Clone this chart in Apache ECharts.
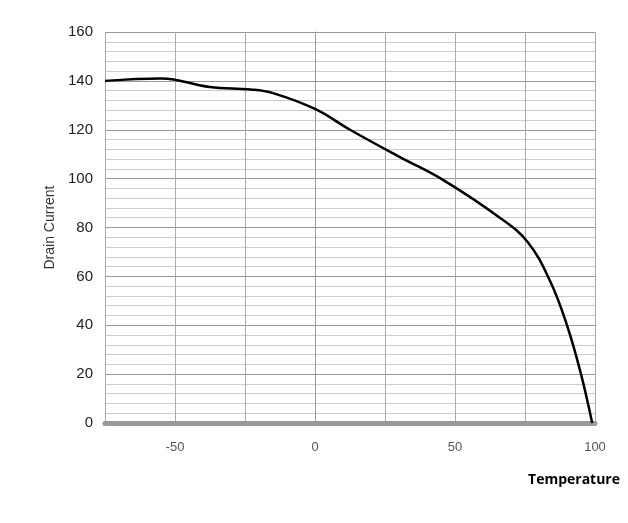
<!DOCTYPE html>
<html><head><meta charset="utf-8">
<script src="https://cdn.jsdelivr.net/npm/echarts@6/dist/echarts.min.js"></script>
<style>html,body{margin:0;padding:0;background:#fff}#c{width:628px;height:523px}</style>
</head><body><div id="c"></div>
<script>
// Temperature (x) vs Drain Current (y)
const temperature = [-75, -55, -37.5, -23, -15, 0, 12.5, 30, 45.7, 66, 76, 84, 90, 95, 99];
const drainCurrent = [140, 141, 137.5, 136.5, 135, 128.5, 120, 109, 99.5, 84, 74, 58, 40, 20, 0];
const xTicks = [-50, 0, 50, 100];
const yTicks = [0, 20, 40, 60, 80, 100, 120, 140, 160];

const chart = echarts.init(document.getElementById('c'));
chart.setOption({
  animation: false,
  backgroundColor: '#fff',
  title: {
    text: 'Temperature', right: 3, top: 468,
    textStyle: {fontFamily: 'Open Sans', fontSize: 14, fontWeight: 'bold', color: '#000'}
  },
  grid: {left: 105, right: 33, top: 32, bottom: 100},
  xAxis: {
    type: 'value', min: -75, max: 100, interval: 25,
    axisLine: {show: true, onZero: false, lineStyle: {color: '#999', width: 5}},
    axisTick: {show: false},
    splitLine: {show: true, lineStyle: {color: '#aaa', width: 1}},
    axisLabel: {
      margin: 18, fontFamily: 'Liberation Sans', fontSize: 13, color: '#555',
      formatter: v => xTicks.includes(v) ? String(v) : ''
    }
  },
  yAxis: {
    type: 'value', min: 0, max: 160, interval: 20,
    name: 'Drain Current', nameLocation: 'middle', nameGap: 40,
    nameTextStyle: {fontFamily: 'Liberation Sans', fontSize: 14, color: '#333'},
    axisLine: {show: true, lineStyle: {color: '#999'}},
    axisTick: {show: false},
    minorTick: {show: false, splitNumber: 5},
    splitLine: {show: true, lineStyle: {color: '#999', width: 1}},
    minorSplitLine: {show: true, lineStyle: {color: '#ccc', width: 1}},
    axisLabel: {
      margin: 12, fontFamily: 'Liberation Sans', fontSize: 15, color: '#222',
      formatter: v => yTicks.includes(v) ? String(v) : ''
    }
  },
  series: [{
    type: 'line', smooth: 0.4, symbol: 'none',
    data: temperature.map((t, i) => [t, drainCurrent[i]]),
    lineStyle: {color: '#000', width: 2.5}
  }]
});
</script></body></html>
